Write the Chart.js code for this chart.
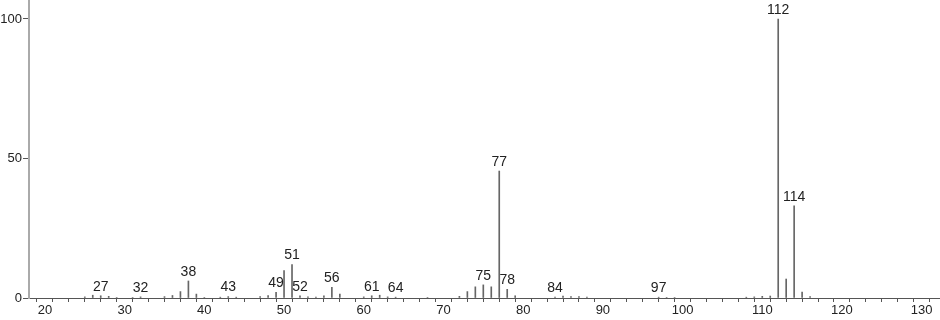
<!DOCTYPE html>
<html>
<head>
<meta charset="utf-8">
<script src="https://cdn.jsdelivr.net/npm/chart.js@4"></script>
<style>
  html, body { margin: 0; padding: 0; background: #fff; }
  #wrap { width: 940px; height: 320px; position: relative; }
</style>
</head>
<body>
<div id="wrap"><canvas id="spec"></canvas></div>
<script>
// m/z values and relative intensities (%)
const mz = [25, 26, 27, 28, 29, 31, 32, 35, 36, 37, 38, 39, 40, 42, 43, 44, 47, 48, 49, 50,
            51, 52, 53, 54, 55, 56, 57, 60, 61, 62, 63, 64, 68, 72, 73, 74, 75, 76, 77, 78,
            79, 84, 85, 86, 87, 88, 97, 98, 99, 108, 109, 110, 111, 112, 113, 114, 115, 116];
const intensity = [0.4, 1.0, 0.8, 0.6, 0.2, 0.2, 0.4, 0.5, 0.9, 2.3, 6.1, 1.4, 0.2, 0.3, 0.5, 0.3, 0.5, 0.9, 2.0, 9.8,
                   12.0, 0.8, 0.4, 0.3, 0.8, 3.8, 1.4, 0.4, 0.8, 1.0, 0.4, 0.3, 0.2, 0.6, 2.3, 4.0, 4.7, 4.0, 45.5, 3.1,
                   0.8, 0.3, 0.7, 0.5, 0.5, 0.3, 0.3, 0.2, 0.2, 0.3, 0.4, 0.6, 0.7, 100, 6.8, 33.0, 2.1, 0.5];
const labelled = [27, 32, 38, 43, 49, 51, 52, 56, 61, 64, 75, 77, 78, 84, 97, 112, 114];
const yTicks = [0, 50, 100];

const peakLabels = {
    id: 'peakLabels',
    afterDatasetsDraw(chart) {
        const ctx = chart.ctx;
        const meta = chart.getDatasetMeta(0);
        ctx.save();
        ctx.font = '14px "Liberation Sans"';
        ctx.fillStyle = '#222';
        ctx.textAlign = 'center';
        ctx.textBaseline = 'bottom';
        meta.data.forEach((bar, i) => {
            if (labelled.includes(mz[i])) {
                ctx.fillText(String(mz[i]), bar.x, bar.y - 2);
            }
        });
        ctx.restore();
    }
};

new Chart(document.getElementById('spec'), {
    type: 'bar',
    data: {
        datasets: [{
            data: mz.map((m, i) => ({ x: m, y: intensity[i] })),
            backgroundColor: '#666',
            barThickness: 1,
            grouped: false
        }]
    },
    options: {
        responsive: true,
        maintainAspectRatio: false,
        animation: false,
        layout: { padding: 0 },
        plugins: { legend: { display: false }, tooltip: { enabled: false } },
        scales: {
            x: {
                type: 'linear',
                offset: false,
                min: 18,
                max: 132.3,
                afterBuildTicks: s => { s.ticks = s.ticks.filter(t => t.value % 2 === 0); },
                afterFit: s => { s.height = 22; },
                border: { color: '#555', width: 1 },
                grid: { drawOnChartArea: false, tickLength: 4, color: '#555' },
                ticks: {
                    stepSize: 2,
                    autoSkip: false,
                    maxRotation: 0,
                    padding: 1,
                    color: '#222',
                    font: { family: 'Liberation Sans', size: 13 },
                    callback: v => (v % 10 === 0 ? String(v) : '')
                }
            },
            y: {
                min: 0,
                max: 106.8,
                afterBuildTicks: s => { s.ticks = yTicks.map(v => ({ value: v })); },
                afterFit: s => { s.width = 29; s.paddingTop = 0; s.paddingBottom = 0; },
                border: { color: '#aaa', width: 2 },
                grid: { drawOnChartArea: false, tickLength: 6, color: '#555' },
                ticks: {
                    padding: 1,
                    color: '#222',
                    font: { family: 'Liberation Sans', size: 13 }
                }
            }
        }
    },
    plugins: [peakLabels]
});
</script>
</body>
</html>
